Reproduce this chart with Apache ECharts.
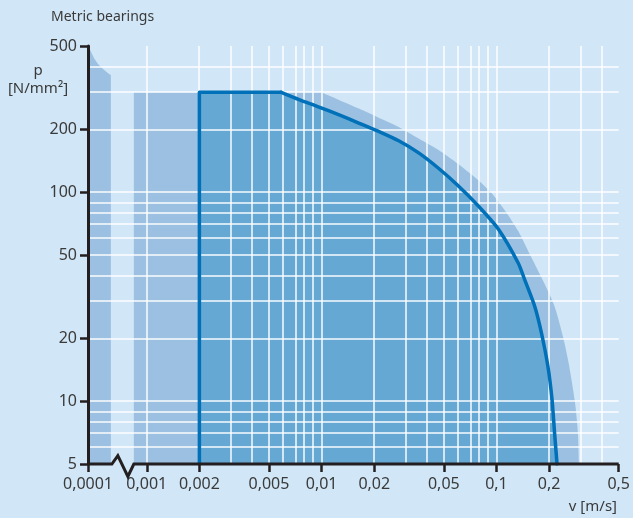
<!DOCTYPE html>
<html>
<head>
<meta charset="utf-8">
<title>Metric bearings</title>
<script src="https://cdn.jsdelivr.net/npm/echarts@6/dist/echarts.min.js"></script>
<style>
    html, body { margin: 0; padding: 0; background: #d1e6f6; }
    #chart { width: 633px; height: 518px; }
</style>
</head>
<body>
<div id="chart"></div>
<script>
// tick labels
var xTicks = [0.0001, 0.001, 0.002, 0.005, 0.01, 0.02, 0.05, 0.1, 0.2, 0.5];
var xTickLabels = ['0,0001', '0,001', '0,002', '0,005', '0,01', '0,02', '0,05', '0,1', '0,2', '0,5'];
var yTicks = [5, 10, 20, 50, 100, 200, 500];

// grid lines
var xGrid = [0.001, 0.002, 0.003, 0.004, 0.005, 0.006, 0.007, 0.008, 0.009,
             0.01, 0.02, 0.03, 0.04, 0.05, 0.06, 0.07, 0.08, 0.09,
             0.1, 0.2, 0.3, 0.4, 0.5];
var yGrid = [6, 7, 8, 9, 10, 20, 30, 40, 50, 60, 70, 80, 90, 100, 200, 300, 400, 500];

// [v m/s, p N/mm2]
var zoneLeft = [[0.0001, 500], [0.000112, 471], [0.000131, 431], [0.00016, 401],
                [0.000202, 378], [0.000245, 363]];
// zone II / III envelope: flat top, then the limit curve
var outerTop = [[0.000603, 300], [0.00992, 300]];
var outerCurve = [[0.00992, 300], [0.01257, 276], [0.01633, 251], [0.02123, 227],
                  [0.02759, 205], [0.03586, 180.5], [0.04662, 159], [0.06061, 136],
                  [0.07877, 114], [0.0934, 99.2], [0.1122, 81.2], [0.1331, 65.1],
                  [0.1558, 50], [0.18, 39.3], [0.2134, 28.8], [0.2401, 20.3],
                  [0.2598, 14.9], [0.281, 9.9], [0.2923, 7.04], [0.2961, 5]];
// zone I: left edge + flat top, then the limit curve
var zoneIEdge = [[0.002, 5], [0.002, 300], [0.00587, 300]];
var zoneICurve = [[0.00587, 300], [0.00743, 277], [0.00967, 255], [0.0126, 234],
                  [0.0163, 214], [0.0212, 195], [0.0276, 176], [0.0359, 154],
                  [0.0466, 130], [0.0606, 107], [0.0788, 85.8], [0.1024, 66.6],
                  [0.1331, 45.8], [0.1453, 37.9], [0.1657, 28.3], [0.181, 21.1],
                  [0.197, 14.6], [0.208, 10.1], [0.215, 7.0], [0.222, 5]];
// x axis line with the zigzag break
var axisBreak = [[0.0001, 5], [0.000255, 5], [0.000322, 5.48], [0.000477, 4.36],
                 [0.000603, 5], [0.5, 5]];

var zoneNames = ['II', 'I', 'III'];
var zoneLabelV = [0.00139, 0.014, 0.231];
var zoneLabelP = [13.9, 13.9, 13.9];

var FONT = 'Noto Sans';
var TXT = '#3a3a3a';
var AXIS = '#231f20';
var MID = '#9bc0e1';
var DARK = '#66a8d4';
var BLUE = '#0070b8';

// the decade 0.0001..0.001 is squeezed (axis break)
var BREAK_W = 59 / 175.6;
function tx(v) {
    var l = Math.log10(v);
    return l >= -3 ? l : -3 + (l + 3) * BREAK_W;
}
function ty(p) { return Math.log10(p); }
function pts(arr) { return arr.map(function (d) { return [tx(d[0]), ty(d[1])]; }); }

function zone(data, color, z, smooth) {
    return {
        type: 'line', data: pts(data), symbol: 'none', z: z, silent: true,
        smooth: smooth || false,
        lineStyle: { width: 0 },
        areaStyle: { color: color, opacity: 1, origin: 'start' }
    };
}
function border(data, smooth) {
    return {
        type: 'line', data: pts(data), symbol: 'none', z: 4, silent: true,
        smooth: smooth || false,
        lineStyle: { color: BLUE, width: 3.5, cap: 'round', join: 'round' }
    };
}

var myChart = echarts.init(document.getElementById('chart'));

var gridLines = xGrid.map(function (v) { return { xAxis: tx(v) }; })
    .concat(yGrid.map(function (p) { return { yAxis: ty(p) }; }));

var fillI = zone(zoneICurve, DARK, 2, 0.25);
fillI.markLine = {
    z: 3, silent: true, symbol: ['none', 'none'], animation: false,
    label: { show: false },
    lineStyle: { color: '#ffffff', width: 1.5, type: 'solid', opacity: 0.95 },
    emphasis: { disabled: true },
    data: gridLines
};

var option = {
    backgroundColor: '#d1e6f6',
    animation: false,
    title: {
        text: 'Metric bearings', left: 46, top: 5,
        textStyle: { fontSize: 14, fontWeight: 'normal', color: TXT, fontFamily: FONT }
    },
    grid: { left: 88, right: 12, top: 46, bottom: 54, containLabel: false },
    xAxis: {
        type: 'value', min: tx(0.0001), max: tx(0.5), z: 10,
        axisLine: { show: false },
        splitLine: { show: false },
        axisTick: {
            show: true, length: 8, customValues: xTicks.map(tx),
            lineStyle: { color: AXIS, width: 2.5 }
        },
        axisLabel: {
            customValues: xTicks.map(tx), margin: 12,
            color: TXT, fontSize: 16, fontFamily: FONT,
            formatter: function (val) {
                for (var i = 0; i < xTicks.length; i++) {
                    if (Math.abs(tx(xTicks[i]) - val) < 1e-6) return xTickLabels[i];
                }
                return '';
            }
        }
    },
    yAxis: {
        type: 'value', min: ty(5), max: ty(500), z: 10,
        axisLine: { show: true, onZero: false, lineStyle: { color: AXIS, width: 3 } },
        splitLine: { show: false },
        axisTick: {
            show: true, length: 8, customValues: yTicks.map(ty),
            lineStyle: { color: AXIS, width: 2.5 }
        },
        axisLabel: {
            customValues: yTicks.map(ty), margin: 11,
            color: TXT, fontSize: 16, fontFamily: FONT,
            formatter: function (val) { return String(Math.round(Math.pow(10, val))); }
        }
    },
    graphic: [
        { type: 'text', x: 38, y: 71, style: { text: 'p', fill: TXT, font: '15px "Noto Sans"', textAlign: 'center', textVerticalAlign: 'middle', align: 'center', verticalAlign: 'middle' } },
        { type: 'text', x: 38, y: 89, style: { text: '[N/mm²]', fill: TXT, font: '15px "Noto Sans"', textAlign: 'center', textVerticalAlign: 'middle', align: 'center', verticalAlign: 'middle' } },
        { type: 'text', x: 617, y: 507, style: { text: 'v [m/s]', fill: TXT, font: '15px "Noto Sans"', textAlign: 'right', textVerticalAlign: 'middle', align: 'right', verticalAlign: 'middle' } }
    ],
    series: [
        zone(zoneLeft, MID, 1, 0.4),
        zone(outerTop, MID, 1),
        zone(outerCurve, MID, 1, 0.25),
        zone([zoneIEdge[1], [0.0059, 300]], DARK, 2),
        fillI,
        border(zoneIEdge),
        border(zoneICurve, 0.25),
        {
            type: 'scatter', symbolSize: 1, z: 6, silent: true,
            itemStyle: { opacity: 0 },
            label: {
                show: true, position: 'inside', formatter: '{b}',
                color: TXT, fontSize: 16, fontFamily: FONT
            },
            data: zoneNames.map(function (n, i) {
                return { name: n, value: [tx(zoneLabelV[i]), ty(zoneLabelP[i])] };
            })
        },
        {
            // x axis line, drawn as a series to get the break
            type: 'line', data: pts(axisBreak), symbol: 'none', z: 10, clip: false, silent: true,
            lineStyle: { color: AXIS, width: 3, join: 'miter' }
        }
    ]
};
myChart.setOption(option);
window.addEventListener('resize', function () { myChart.resize(); });
</script>
</body>
</html>
